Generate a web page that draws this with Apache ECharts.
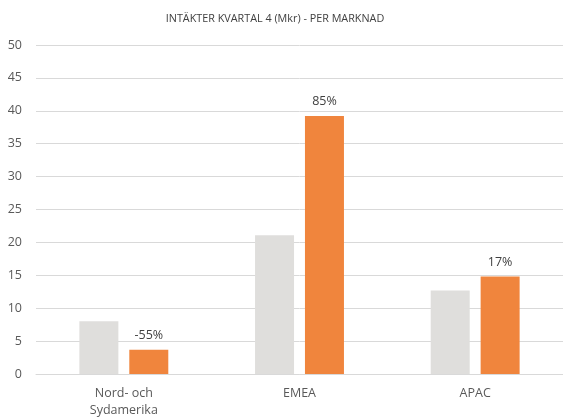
<!DOCTYPE html>
<html>
<head>
<meta charset="utf-8">
<script src="https://cdn.jsdelivr.net/npm/echarts@6/dist/echarts.min.js"></script>
<style>
html,body{margin:0;padding:0;background:#fff;}
#chart{width:563px;height:419px;}
</style>
</head>
<body>
<div id="chart"></div>
<script>
const categories = ['Nord- och\nSydamerika', 'EMEA', 'APAC'];
const previousQuarter = [8.0, 21.1, 12.7];
const currentQuarter = [3.7, 39.2, 14.8];
const growthLabels = ['-55%', '85%', '17%'];
const yTicks = [0, 5, 10, 15, 20, 25, 30, 35, 40, 45, 50];

const chart = echarts.init(document.getElementById('chart'));
const font = '"Open Sans", "Liberation Sans", sans-serif';
chart.setOption({
  animation: false,
  title: {
    text: 'INTÄKTER KVARTAL 4 (Mkr) - PER MARKNAD',
    left: 270, top: 8, textAlign: 'center',
    textStyle: { fontFamily: font, fontSize: 10.8, fontWeight: 'normal', color: '#404040' }
  },
  grid: { left: 36, top: 45, width: 528, height: 330, containLabel: false },
  xAxis: {
    type: 'category',
    data: categories,
    axisLine: { lineStyle: { color: '#d9d9d9' } },
    axisTick: { show: false },
    axisLabel: { color: '#595959', fontFamily: font, fontSize: 12.5, margin: 11, lineHeight: 17 }
  },
  yAxis: {
    type: 'value',
    min: yTicks[0], max: yTicks[yTicks.length - 1], interval: 5,
    axisLine: { show: false },
    axisTick: { show: false },
    splitLine: { lineStyle: { color: '#d9d9d9', width: 1 } },
    axisLabel: { color: '#595959', fontFamily: font, fontSize: 12.5, margin: 14 }
  },
  series: [
    {
      type: 'bar',
      data: previousQuarter,
      barWidth: 39,
      barGap: '28%',
      itemStyle: { color: '#dfdedc' }
    },
    {
      type: 'bar',
      data: currentQuarter,
      barWidth: 39,
      itemStyle: { color: '#f0853d' },
      label: {
        show: true, position: 'top', distance: 8,
        formatter: p => growthLabels[p.dataIndex],
        color: '#404040', fontFamily: font, fontSize: 12.5
      }
    }
  ]
});
</script>
</body>
</html>
